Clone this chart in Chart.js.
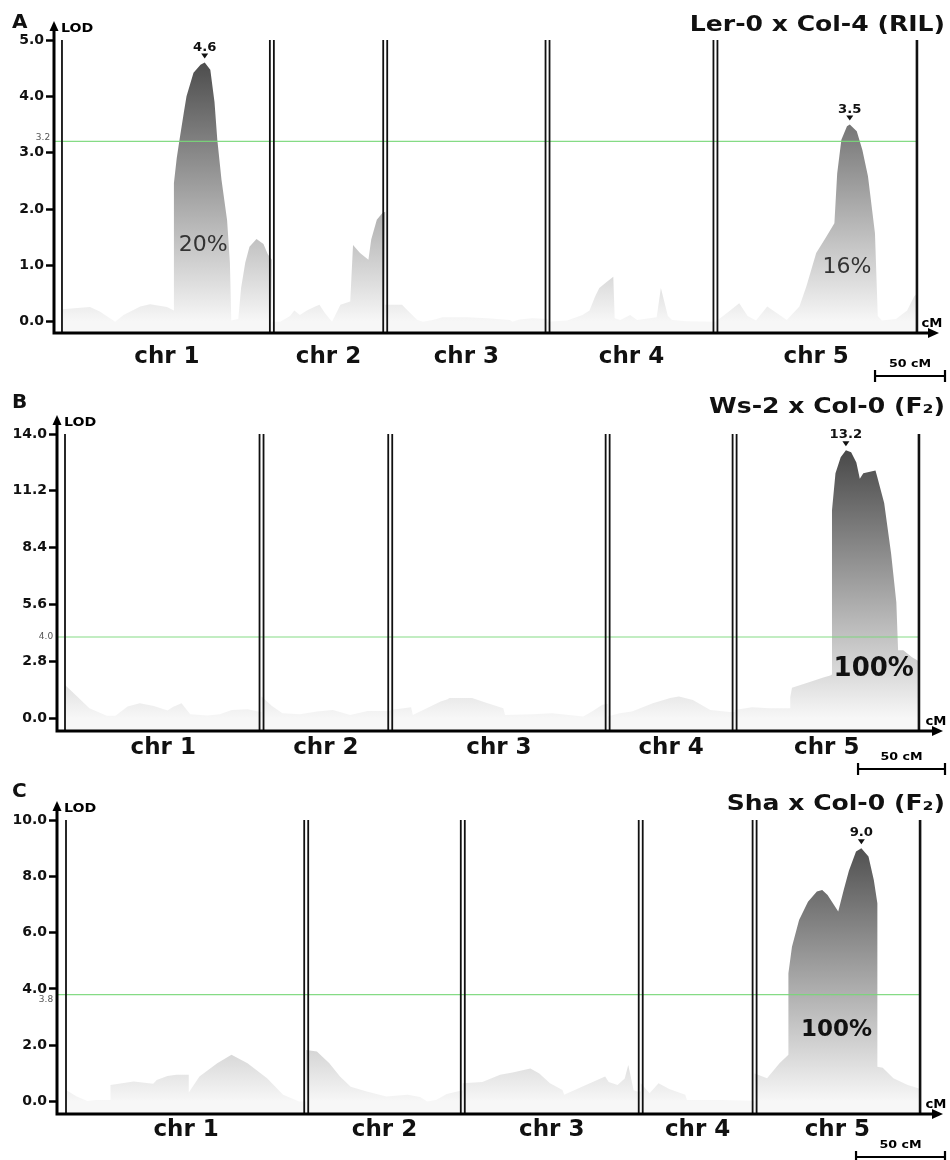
<!DOCTYPE html>
<html>
<head>
<meta charset="utf-8">
<script src="https://cdn.jsdelivr.net/npm/chart.js@4.4.1/dist/chart.umd.min.js"></script>
<style>
  html, body { margin: 0; padding: 0; background: #fff; }
  #wrap { position: relative; width: 950px; height: 1160px; overflow: hidden; }
  canvas { position: absolute; left: 0; }
</style>
</head>
<body>
<div id="wrap">
  <canvas id="qtlA" width="950" height="390" style="top:0"></canvas>
  <canvas id="qtlB" width="950" height="400" style="top:380px"></canvas>
  <canvas id="qtlC" width="950" height="390" style="top:770px"></canvas>
</div>
<script>
const FONT = '"DejaVu Sans", Verdana, sans-serif';
const chrNames = ['chr 1', 'chr 2', 'chr 3', 'chr 4', 'chr 5'];

// A: Ler-0 x Col-4 (RIL), positions are cumulative cM
const chrEndsA = [150, 231, 347, 467, 611];
const posA = [
  0, 20, 27, 38, 44, 56, 63, 75, 80, 80, 82, 84, 87, 89, 94, 99, 102, 106, 109, 111, 114, 118, 120, 121, 126, 128, 131, 134, 139, 144, 147, 150,
  150, 156, 163, 166, 170, 175, 181, 184, 188, 193, 199, 206, 208, 213, 219, 221, 225, 229, 231,
  231, 243, 249, 254, 258, 265, 272, 289, 304, 320, 322, 327, 336, 347,
  347, 361, 372, 377, 381, 384, 389, 394, 395, 399, 406, 411, 425, 428, 433, 436, 446, 467,
  467, 475, 484, 490, 496, 504, 511, 518, 527, 532, 539, 546, 552, 554, 557, 561, 563, 568, 572, 576, 581, 583, 586, 596, 604, 609, 611
];
const lodA = [
  0.22, 0.26, 0.18, 0.0, 0.12, 0.27, 0.31, 0.26, 0.2, 2.46, 2.9, 3.23, 3.7, 4.0, 4.42, 4.56, 4.6, 4.47, 3.9, 3.23, 2.52, 1.8, 1.05, 0.02, 0.05, 0.6, 1.05, 1.33, 1.47, 1.38, 1.2, 1.1,
  0.0, 0.0, 0.1, 0.2, 0.12, 0.2, 0.27, 0.3, 0.15, 0.0, 0.3, 0.36, 1.36, 1.22, 1.1, 1.46, 1.81, 1.93, 1.95,
  0.3, 0.3, 0.15, 0.03, 0.0, 0.03, 0.08, 0.08, 0.06, 0.03, 0.0, 0.04, 0.06, 0.05,
  0.0, 0.02, 0.12, 0.2, 0.45, 0.6, 0.7, 0.8, 0.06, 0.03, 0.12, 0.03, 0.08, 0.6, 0.1, 0.03, 0.01, 0.0,
  0.0, 0.15, 0.33, 0.1, 0.02, 0.27, 0.15, 0.03, 0.27, 0.63, 1.22, 1.5, 1.75, 2.63, 3.23, 3.47, 3.5, 3.38, 3.05, 2.58, 1.57, 0.1, 0.02, 0.05, 0.2, 0.45, 0.5
];
const yTicksA = [0, 1, 2, 3, 4, 5];

// B: Ws-2 x Col-0 (F2)
const chrEndsB = [113, 187, 312, 385, 491];
const posB = [
  0, 7, 14, 24, 29, 36, 43, 51, 59, 62, 67, 72, 82, 89, 96, 105, 111, 113,
  113, 119, 125, 135, 145, 154, 164, 174, 185, 187,
  187, 199, 200, 208, 216, 220, 221, 234, 243, 252, 253, 269, 280, 298, 303, 309, 312,
  312, 319, 326, 338, 348, 353, 361, 371, 382, 385,
  385, 395, 405, 417, 417, 418, 426, 436, 440, 441, 441, 443, 446, 449, 452, 455, 457, 459, 466, 467, 471, 475, 478, 479, 482, 487, 490, 491
];
const lodB = [
  1.64, 1.07, 0.49, 0.12, 0.12, 0.58, 0.74, 0.6, 0.38, 0.55, 0.74, 0.2, 0.13, 0.2, 0.41, 0.44, 0.33, 0.3,
  1.07, 0.6, 0.25, 0.2, 0.33, 0.41, 0.16, 0.36, 0.36, 0.36,
  0.41, 0.54, 0.16, 0.49, 0.82, 0.94, 1.0, 1.0, 0.74, 0.49, 0.16, 0.2, 0.25, 0.08, 0.33, 0.66, 0.7,
  0.08, 0.25, 0.33, 0.74, 0.99, 1.07, 0.9, 0.41, 0.3, 0.3,
  0.41, 0.54, 0.49, 0.49, 1.03, 1.5, 1.72, 2.0, 2.1, 2.15, 10.25, 12.07, 12.86, 13.2, 13.1, 12.6, 11.8, 12.07, 12.2, 11.9, 10.6, 8.1, 5.7, 3.35, 3.35, 3.0, 2.85, 2.8
];
const yTicksB = [0, 2.8, 5.6, 8.4, 11.2, 14];

// C: Sha x Col-0 (F2)
const chrEndsC = [135, 223, 323, 387, 480];
const posC = [
  0, 6, 12, 17, 25, 25, 38, 49, 51, 57, 62, 69, 69, 75, 85, 93, 102, 113, 122, 131, 135,
  135, 141, 148, 154, 160, 169, 180, 192, 199, 203, 208, 214, 220, 223,
  223, 234, 244, 251, 261, 266, 272, 279, 280, 290, 303, 305, 310, 314, 316, 319, 321, 323,
  323, 328, 333, 339, 348, 349, 367, 386, 387,
  387, 394, 401, 406, 406, 408, 412, 417, 422, 425, 428, 434, 437, 440, 444, 447, 451, 454, 456, 456, 459, 465, 473, 479, 480
];
const lodC = [
  0.41, 0.18, 0.02, 0.06, 0.06, 0.59, 0.71, 0.63, 0.77, 0.91, 0.95, 0.95, 0.32, 0.89, 1.36, 1.66, 1.36, 0.83, 0.24, 0.0, 0.0,
  1.83, 1.78, 1.36, 0.89, 0.53, 0.36, 0.18, 0.24, 0.16, 0.0, 0.06, 0.27, 0.36, 0.4,
  0.65, 0.7, 0.95, 1.03, 1.18, 1.0, 0.65, 0.41, 0.24, 0.53, 0.89, 0.7, 0.59, 0.82, 1.3, 0.4, 0.36, 0.36,
  0.65, 0.3, 0.65, 0.45, 0.24, 0.06, 0.06, 0.03, 0.03,
  1.0, 0.83, 1.36, 1.66, 4.56, 5.5, 6.45, 7.1, 7.46, 7.51, 7.34, 6.75, 7.5, 8.2, 8.88, 9.0, 8.7, 7.87, 7.04, 1.24, 1.2, 0.83, 0.59, 0.47, 0.45
];
const yTicksC = [0, 2, 4, 6, 8, 10];

// grey ramp: light at LOD 0, dark at the top of the axis
function lodGradient(chart, top) {
  if (!chart.chartArea) return '#ddd';
  const y = chart.scales.y;
  const g = chart.ctx.createLinearGradient(0, y.getPixelForValue(0), 0, y.getPixelForValue(top));
  g.addColorStop(0, '#f7f7f7');
  g.addColorStop(1, '#3e3e3e');
  return g;
}

function vline(ctx, x, top, bottom, w) {
  ctx.lineWidth = w;
  ctx.beginPath();
  ctx.moveTo(x, top);
  ctx.lineTo(x, bottom);
  ctx.stroke();
}

// text drawn a little wider than the font's own proportions
function wideText(ctx, text, x, y, sx) {
  ctx.save();
  ctx.translate(x, y);
  ctx.scale(sx, 1);
  ctx.fillText(text, 0, 0);
  ctx.restore();
}

// chromosome separators, threshold, axis arrows and annotations
const qtlDecor = {
  id: 'qtlDecor',
  afterDatasetsDraw(chart, args, o) {
    const { ctx, chartArea: a, scales: { x, y } } = chart;
    const px = v => x.getPixelForValue(v);
    const last = o.chrEnds[o.chrEnds.length - 1];
    ctx.save();

    // LOD threshold
    const ty = y.getPixelForValue(o.threshold);
    ctx.strokeStyle = 'rgba(120, 215, 120, 0.9)';
    ctx.lineWidth = 1.2;
    ctx.beginPath();
    ctx.moveTo(a.left, ty);
    ctx.lineTo(px(last), ty);
    ctx.stroke();
    ctx.fillStyle = '#555';
    ctx.font = '9px ' + FONT;
    ctx.textAlign = 'center';
    ctx.textBaseline = 'middle';
    ctx.fillText(o.threshold.toFixed(1), a.left - 11, ty + o.thrDy);

    // chromosome borders
    ctx.strokeStyle = '#111';
    vline(ctx, px(0), a.top, a.bottom, 1.8);
    o.chrEnds.slice(0, -1).forEach(e => {
      vline(ctx, px(e) - 2, a.top, a.bottom, 1.8);
      vline(ctx, px(e) + 2, a.top, a.bottom, 1.8);
    });
    vline(ctx, px(last), a.top, a.bottom, 2.6);

    // axes with arrow heads
    ctx.strokeStyle = '#000';
    ctx.fillStyle = '#000';
    ctx.lineWidth = 3;
    ctx.beginPath();
    ctx.moveTo(a.left - 1.5, a.bottom);
    ctx.lineTo(a.right + 2, a.bottom);
    ctx.moveTo(a.left, a.bottom + 1.5);
    ctx.lineTo(a.left, a.top - 12);
    ctx.stroke();
    ctx.beginPath();
    ctx.moveTo(a.right + 11, a.bottom);
    ctx.lineTo(a.right, a.bottom - 5);
    ctx.lineTo(a.right, a.bottom + 5);
    ctx.closePath();
    ctx.fill();
    ctx.beginPath();
    ctx.moveTo(a.left, a.top - 19);
    ctx.lineTo(a.left - 4.5, a.top - 9);
    ctx.lineTo(a.left + 4.5, a.top - 9);
    ctx.closePath();
    ctx.fill();

    ctx.textBaseline = 'alphabetic';
    ctx.font = 'bold 12px ' + FONT;
    ctx.textAlign = 'left';
    wideText(ctx, 'LOD', a.left + 7, a.top - 8, 1.18);
    ctx.textAlign = 'center';
    wideText(ctx, 'cM', a.right + 4, a.bottom - 6, 1.1);

    // panel letter and cross title
    ctx.fillStyle = '#111';
    ctx.textAlign = 'left';
    ctx.font = 'bold 20px ' + FONT;
    ctx.fillText(o.letter, 12, o.letterY);
    ctx.textAlign = 'right';
    ctx.font = 'bold 22px ' + FONT;
    wideText(ctx, o.title, 945, o.titleY, 1.14);

    // peak LOD markers
    o.peaks.forEach(ci => {
      const lo = ci ? o.chrEnds[ci - 1] : 0, hi = o.chrEnds[ci];
      let best = -1;
      o.pos.forEach((p, k) => {
        if (p >= lo && p <= hi && (best < 0 || o.lod[k] > o.lod[best])) best = k;
      });
      const bx = px(o.pos[best]), by = y.getPixelForValue(o.lod[best]);
      ctx.fillStyle = '#111';
      ctx.beginPath();
      ctx.moveTo(bx, by - 4);
      ctx.lineTo(bx - 3.5, by - 9);
      ctx.lineTo(bx + 3.5, by - 9);
      ctx.closePath();
      ctx.fill();
      ctx.font = 'bold 12px ' + FONT;
      ctx.textAlign = 'center';
      wideText(ctx, o.lod[best].toFixed(1), bx, by - 12, 1.1);
    });

    // explained variance
    o.pct.forEach(p => {
      ctx.fillStyle = p.color;
      ctx.font = p.font;
      ctx.textAlign = 'center';
      ctx.textBaseline = 'middle';
      ctx.fillText(p.text, px(p.x), y.getPixelForValue(p.y));
    });

    // 50 cM scale bar
    const len = px(50) - px(0);
    const bx1 = 945, bx0 = bx1 - len;
    ctx.strokeStyle = '#000';
    ctx.lineWidth = 2.2;
    ctx.beginPath();
    ctx.moveTo(bx0, o.barY);
    ctx.lineTo(bx1, o.barY);
    ctx.moveTo(bx0, o.barY - 6);
    ctx.lineTo(bx0, o.barY + 6);
    ctx.moveTo(bx1, o.barY - 6);
    ctx.lineTo(bx1, o.barY + 6);
    ctx.stroke();
    ctx.fillStyle = '#000';
    ctx.textBaseline = 'alphabetic';
    ctx.textAlign = 'center';
    ctx.font = 'bold 11px ' + FONT;
    wideText(ctx, '50 cM', (bx0 + bx1) / 2, o.barY - 9, 1.15);

    ctx.restore();
  }
};

function buildPanel(id, cfg) {
  const points = cfg.pos.map((p, i) => ({ x: p, y: cfg.lod[i] }));
  const mids = cfg.chrEnds.map((e, i) => ((i ? cfg.chrEnds[i - 1] : 0) + e) / 2);
  const h = document.getElementById(id).height;
  return new Chart(document.getElementById(id), {
    type: 'line',
    data: {
      datasets: [{
        data: points,
        fill: 'start',
        borderWidth: 0,
        pointRadius: 0,
        tension: 0,
        backgroundColor: c => lodGradient(c.chart, cfg.yMax)
      }]
    },
    options: {
      responsive: false,
      animation: false,
      events: [],
      layout: { padding: { left: 0, top: cfg.top, right: cfg.right, bottom: 0 } },
      plugins: {
        legend: { display: false },
        tooltip: { enabled: false },
        qtlDecor: cfg
      },
      scales: {
        x: {
          type: 'linear',
          min: cfg.xMin,
          max: cfg.xMax,
          afterBuildTicks: s => { s.ticks = mids.map(v => ({ value: v })); },
          afterFit: s => { s.height = h - cfg.bottom; },
          grid: { display: false, drawTicks: false },
          border: { display: false },
          ticks: {
            autoSkip: false,
            maxRotation: 0,
            padding: cfg.chrPad,
            color: '#111',
            font: { family: FONT, size: 23, weight: 'bold' },
            callback: (v, i) => chrNames[i]
          }
        },
        y: {
          min: cfg.yMin,
          max: cfg.yMax,
          afterBuildTicks: s => { s.ticks = cfg.yTicks.map(v => ({ value: v })); },
          afterFit: s => { s.width = cfg.yAxisW; },
          grid: { drawOnChartArea: false, tickLength: 8, tickWidth: 2.5, tickColor: '#000' },
          border: { display: false },
          ticks: {
            padding: 2,
            color: '#111',
            font: { family: FONT, size: 14, weight: 'bold' },
            callback: v => Number(v).toFixed(1)
          }
        }
      }
    },
    plugins: [qtlDecor]
  });
}

buildPanel('qtlA', {
  pos: posA, lod: lodA, chrEnds: chrEndsA, yTicks: yTicksA,
  yMin: -0.2, yMax: 5, xMin: -5.7, xMax: 618.9,
  top: 40, bottom: 333, right: 22, yAxisW: 54, chrPad: 10,
  threshold: 3.2, thrDy: -4,
  letter: 'A', letterY: 28, title: 'Ler-0 x Col-4 (RIL)', titleY: 31,
  peaks: [0, 4],
  pct: [
    { text: '20%', x: 101, y: 1.35, font: '22px ' + FONT, color: '#333' },
    { text: '16%', x: 561, y: 0.96, font: '22px ' + FONT, color: '#333' }
  ],
  barY: 376
});

buildPanel('qtlB', {
  pos: posB, lod: lodB, chrEnds: chrEndsB, yTicks: yTicksB,
  yMin: -0.63, yMax: 14, xMin: -4.6, xMax: 498.5,
  top: 54, bottom: 351, right: 18, yAxisW: 57, chrPad: 3,
  threshold: 4.0, thrDy: 0,
  letter: 'B', letterY: 28, title: 'Ws-2 x Col-0 (F₂)', titleY: 33,
  peaks: [4],
  pct: [
    { text: '100%', x: 465, y: 2.4, font: 'bold 26px ' + FONT, color: '#111' }
  ],
  barY: 389
});

buildPanel('qtlC', {
  pos: posC, lod: lodC, chrEnds: chrEndsC, yTicks: yTicksC,
  yMin: -0.44, yMax: 10, xMin: -5.06, xMax: 486.7,
  top: 50, bottom: 344, right: 18, yAxisW: 57, chrPad: 2,
  threshold: 3.8, thrDy: 5,
  letter: 'C', letterY: 27, title: 'Sha x Col-0 (F₂)', titleY: 40,
  peaks: [4],
  pct: [
    { text: '100%', x: 433, y: 2.55, font: 'bold 23px ' + FONT, color: '#111' }
  ],
  barY: 387
});
</script>
</body>
</html>
